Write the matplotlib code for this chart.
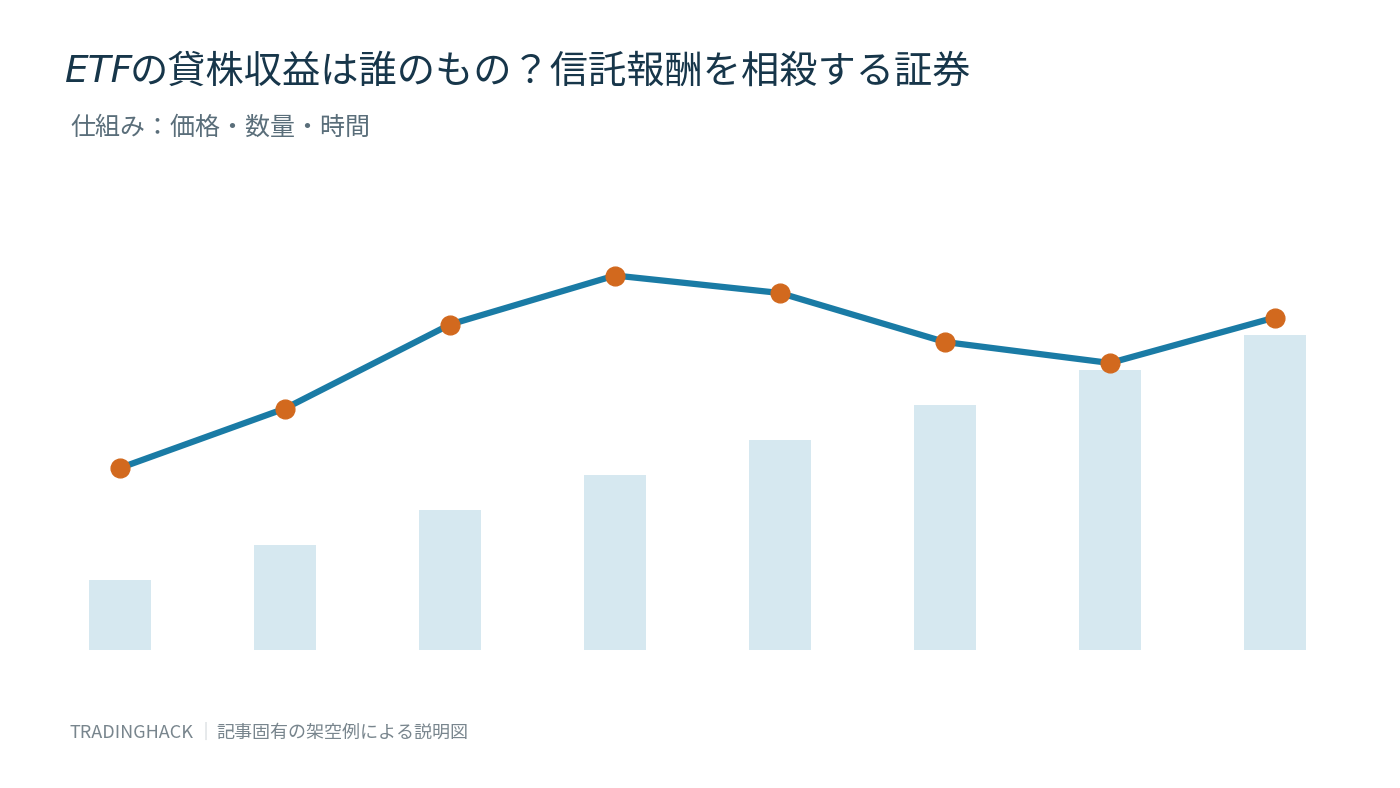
import numpy as np
import matplotlib
matplotlib.use("Agg")
import matplotlib.pyplot as plt

# data
periods = np.arange(8)
bar_values = [2, 3, 4, 5, 6, 7, 8, 9]
line_values = [5.2, 6.9, 9.3, 10.7, 10.2, 8.8, 8.2, 9.5]

title_lead = "ETF"
title_rest = "の貸株収益は誰のもの？信託報酬を相殺する証券"
subtitle = "仕組み：価格・数量・時間"
footer_brand = "TRADINGHACK"
footer_sep = "｜"
footer_note = "記事固有の架空例による説明図"

jp = ["Noto Sans CJK JP", "DejaVu Sans"]

W, H = 1400, 788
fig = plt.figure(figsize=(W / 100, H / 100), dpi=100)
fig.patch.set_facecolor("white")

# axes: x centres at 120..1275 px, baseline at 650 px
left = (120 - 82.5) / W
width = 1320 / W
bottom = (H - 650) / H
height = 420 / H
ax = fig.add_axes([left, bottom, width, height])
ax.set_xlim(-0.5, 7.5)
ax.set_ylim(0, 12)
ax.axis("off")

ax.bar(periods, bar_values, width=0.37, color="#d6e8f0", zorder=1)
ax.plot(periods, line_values, color="#1a7ba5", lw=4.5, zorder=2,
        solid_capstyle="round")
ax.plot(periods, line_values, "o", color="#d2691e", ms=13.5, zorder=3)


def px(x, y):
    return x / W, 1 - y / H


fig.canvas.draw()
renderer = fig.canvas.get_renderer()

# title
t1 = fig.text(*px(65, 72), title_lead, fontsize=27, style="italic",
              family="DejaVu Sans", color="#17364a", va="center", ha="left")
bb = t1.get_window_extent(renderer)
fig.text((bb.x1 - 4) / W, 1 - 72 / H, title_rest, fontsize=27.5, family=jp,
         color="#17364a", va="center", ha="left")

# subtitle
fig.text(*px(70, 128), subtitle, fontsize=18, family=jp, color="#5a6e7a",
         va="center", ha="left")

# footer
f1 = fig.text(*px(70, 733), footer_brand, fontsize=13, family=jp,
              color="#78858d", va="center", ha="left")
bb = f1.get_window_extent(renderer)
f2 = fig.text((bb.x1 + 2) / W, 1 - 733 / H, footer_sep, fontsize=13, family=jp,
              color="#c0c8cd", va="center", ha="left")
bb = f2.get_window_extent(renderer)
fig.text((bb.x1 + 2) / W, 1 - 733 / H, footer_note, fontsize=13, family=jp,
         color="#78858d", va="center", ha="left")

fig.savefig("out.png", dpi=100, facecolor="white")
